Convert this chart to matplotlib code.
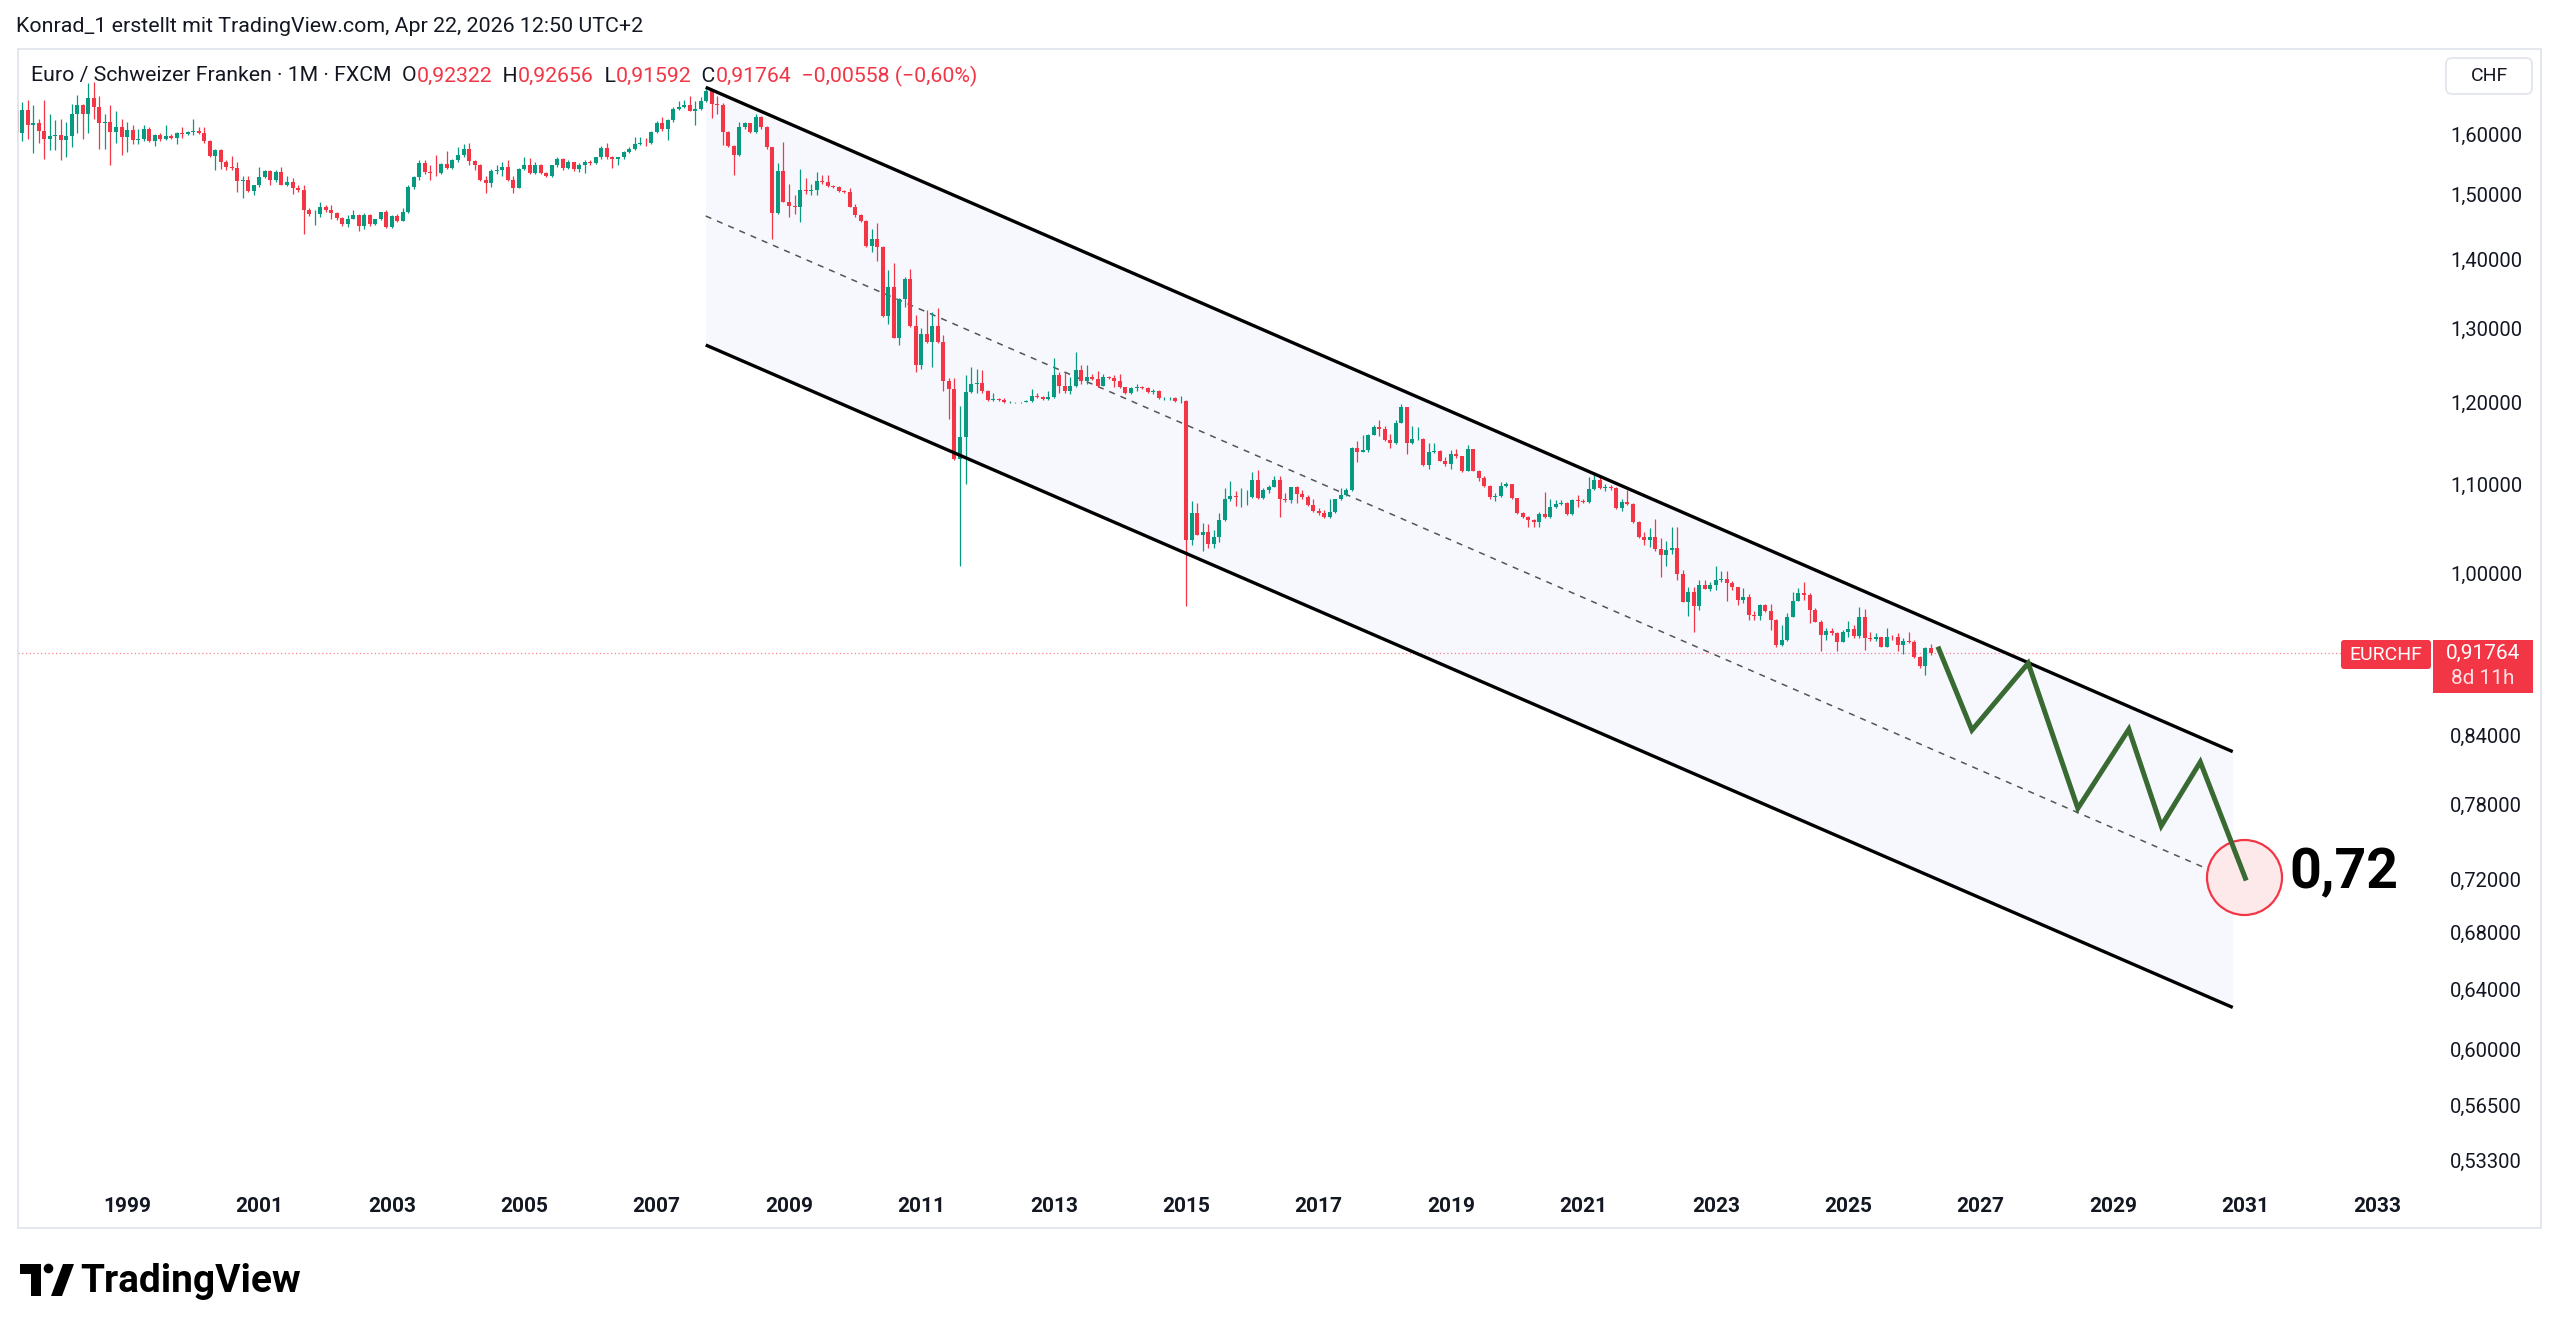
import numpy as np
import matplotlib
matplotlib.use("Agg")
import matplotlib.pyplot as plt
from matplotlib.patches import Rectangle, FancyBboxPatch, Polygon, Circle
from matplotlib.ticker import NullLocator, NullFormatter

W, H, DPI = 2560, 1336, 100
plt.rcParams['font.family'] = ['Roboto', 'DejaVu Sans']

GREEN = '#089981'
RED = '#f23645'
TEXT = '#131722'

# ---------------- EURCHF monthly candles (FXCM), May 1997 .. Apr 2026 ----------------
START_YEAR, START_MONTH = 1997, 5
first_open = 1.640
closes = [
    1.602, 1.643, 1.616, 1.619, 1.606, 1.593, 1.597, 1.599,                          # 1997
    1.590, 1.597, 1.635, 1.652, 1.636, 1.663, 1.648, 1.619, 1.622, 1.604, 1.613, 1.596,  # 1998
    1.608, 1.591, 1.593, 1.610, 1.588, 1.599, 1.593, 1.598, 1.594, 1.603, 1.601, 1.604,  # 1999
    1.606, 1.603, 1.588, 1.563, 1.573, 1.554, 1.545, 1.544, 1.522, 1.523, 1.506, 1.515,  # 2000
    1.529, 1.539, 1.523, 1.537, 1.516, 1.520, 1.511, 1.508, 1.476, 1.469, 1.470, 1.481,  # 2001
    1.475, 1.471, 1.463, 1.453, 1.462, 1.467, 1.450, 1.467, 1.453, 1.461, 1.472, 1.449,  # 2002
    1.466, 1.459, 1.472, 1.513, 1.529, 1.551, 1.537, 1.536, 1.535, 1.550, 1.544, 1.556,  # 2003
    1.566, 1.575, 1.555, 1.549, 1.524, 1.519, 1.538, 1.541, 1.546, 1.523, 1.511, 1.542,  # 2004
    1.548, 1.535, 1.548, 1.535, 1.531, 1.548, 1.559, 1.544, 1.554, 1.542, 1.548, 1.554,  # 2005
    1.552, 1.561, 1.577, 1.561, 1.559, 1.561, 1.570, 1.575, 1.583, 1.586, 1.585, 1.605,  # 2006
    1.619, 1.609, 1.625, 1.645, 1.648, 1.651, 1.641, 1.645, 1.658, 1.676, 1.654, 1.652,  # 2007
    1.604, 1.580, 1.565, 1.613, 1.619, 1.604, 1.630, 1.613, 1.578, 1.471, 1.539, 1.489,  # 2008
    1.482, 1.481, 1.507, 1.506, 1.507, 1.522, 1.520, 1.514, 1.512, 1.506, 1.505, 1.481,  # 2009
    1.467, 1.459, 1.419, 1.431, 1.418, 1.317, 1.358, 1.287, 1.342, 1.371, 1.303, 1.250,  # 2010
    1.292, 1.281, 1.303, 1.281, 1.229, 1.218, 1.130, 1.157, 1.214, 1.224, 1.226, 1.215,  # 2011
    1.204, 1.205, 1.204, 1.201, 1.201, 1.2008, 1.201, 1.202, 1.209, 1.207, 1.205, 1.208,  # 2012
    1.237, 1.222, 1.216, 1.222, 1.243, 1.228, 1.234, 1.231, 1.222, 1.234, 1.232, 1.228,  # 2013
    1.220, 1.213, 1.219, 1.221, 1.2195, 1.214, 1.2155, 1.206, 1.206, 1.2065, 1.202, 1.2025,  # 2014
    1.036, 1.066, 1.042, 1.045, 1.031, 1.039, 1.058, 1.082, 1.086, 1.085, 1.085, 1.085,  # 2015
    1.105, 1.084, 1.093, 1.097, 1.105, 1.082, 1.081, 1.096, 1.088, 1.0845, 1.0755, 1.069,  # 2016
    1.066, 1.0615, 1.068, 1.082, 1.087, 1.093, 1.143, 1.139, 1.141, 1.160, 1.169, 1.167,  # 2017
    1.153, 1.149, 1.174, 1.195, 1.149, 1.154, 1.155, 1.123, 1.138, 1.140, 1.128, 1.124,  # 2018
    1.136, 1.133, 1.115, 1.142, 1.116, 1.107, 1.098, 1.085, 1.086, 1.098, 1.0995, 1.0835,  # 2019
    1.066, 1.062, 1.058, 1.056, 1.065, 1.062, 1.0736, 1.077, 1.0775, 1.065, 1.081, 1.0805,  # 2020
    1.0795, 1.094, 1.1045, 1.095, 1.097, 1.095, 1.072, 1.0794, 1.077, 1.0565, 1.039, 1.0362,  # 2021
    1.039, 1.0256, 1.019, 1.0249, 1.0267, 0.9988, 0.9698, 0.9801, 0.9653, 0.9871, 0.9825, 0.987,  # 2022
    0.9924, 0.994, 0.9896, 0.9847, 0.9715, 0.975, 0.956, 0.9553, 0.9663, 0.9604, 0.9509, 0.9258,  # 2023
    0.9307, 0.9543, 0.9708, 0.9783, 0.9766, 0.961, 0.9492, 0.9357, 0.940, 0.938, 0.929, 0.939,  # 2024
    0.9414, 0.9348, 0.9543, 0.9325, 0.9315, 0.9335, 0.9242, 0.9341, 0.9335, 0.9258, 0.9300, 0.929,  # 2025
    0.9136, 0.9052, 0.9232, 0.91764,                                                 # 2026
]
highs = [
    1.657, 1.657, 1.660, 1.651, 1.627, 1.660, 1.635, 1.625,
    1.627, 1.622, 1.654, 1.670, 1.654, 1.690, 1.693, 1.667, 1.635, 1.651, 1.640, 1.627,
    1.622, 1.616, 1.610, 1.616, 1.613, 1.600, 1.602, 1.616, 1.601, 1.604, 1.612, 1.606,
    1.627, 1.612, 1.613, 1.590, 1.576, 1.576, 1.556, 1.563, 1.554, 1.531, 1.530, 1.516,
    1.545, 1.540, 1.541, 1.540, 1.545, 1.531, 1.527, 1.515, 1.515, 1.478, 1.475, 1.488,
    1.483, 1.483, 1.472, 1.464, 1.467, 1.476, 1.469, 1.471, 1.469, 1.462, 1.473, 1.476,
    1.467, 1.470, 1.478, 1.515, 1.531, 1.556, 1.556, 1.548, 1.565, 1.552, 1.572, 1.558,
    1.579, 1.584, 1.586, 1.557, 1.550, 1.530, 1.542, 1.548, 1.553, 1.556, 1.530, 1.543,
    1.561, 1.560, 1.553, 1.550, 1.537, 1.549, 1.561, 1.560, 1.556, 1.554, 1.551, 1.557,
    1.557, 1.562, 1.580, 1.586, 1.563, 1.562, 1.572, 1.578, 1.596, 1.596, 1.594, 1.606,
    1.623, 1.630, 1.627, 1.647, 1.658, 1.660, 1.667, 1.658, 1.665, 1.682, 1.678, 1.667,
    1.655, 1.606, 1.582, 1.622, 1.622, 1.620, 1.636, 1.632, 1.614, 1.579, 1.551, 1.587,
    1.517, 1.500, 1.542, 1.527, 1.518, 1.537, 1.532, 1.532, 1.516, 1.514, 1.508, 1.510,
    1.485, 1.469, 1.460, 1.446, 1.455, 1.420, 1.384, 1.394, 1.343, 1.374, 1.385, 1.319,
    1.300, 1.326, 1.323, 1.329, 1.290, 1.232, 1.232, 1.196, 1.237, 1.247, 1.244, 1.243,
    1.217, 1.213, 1.206, 1.206, 1.202, 1.2015, 1.2015, 1.204, 1.218, 1.213, 1.209, 1.216,
    1.259, 1.241, 1.241, 1.234, 1.267, 1.250, 1.250, 1.238, 1.242, 1.238, 1.235, 1.236,
    1.238, 1.221, 1.220, 1.225, 1.222, 1.221, 1.218, 1.217, 1.208, 1.208, 1.207, 1.209,
    1.2035, 1.080, 1.078, 1.055, 1.054, 1.047, 1.066, 1.095, 1.104, 1.092, 1.095, 1.093,
    1.114, 1.117, 1.095, 1.099, 1.110, 1.110, 1.090, 1.097, 1.098, 1.093, 1.087, 1.083,
    1.072, 1.070, 1.082, 1.083, 1.095, 1.095, 1.145, 1.152, 1.160, 1.161, 1.172, 1.178,
    1.171, 1.161, 1.178, 1.199, 1.195, 1.170, 1.169, 1.156, 1.150, 1.149, 1.141, 1.132,
    1.141, 1.142, 1.133, 1.147, 1.142, 1.117, 1.110, 1.099, 1.089, 1.103, 1.103, 1.100,
    1.084, 1.067, 1.063, 1.059, 1.067, 1.091, 1.082, 1.081, 1.081, 1.079, 1.082, 1.087,
    1.082, 1.108, 1.114, 1.110, 1.100, 1.099, 1.096, 1.082, 1.093, 1.078, 1.057, 1.045,
    1.049, 1.060, 1.038, 1.035, 1.050, 1.050, 1.003, 0.985, 0.985, 0.993, 0.993, 0.990,
    1.007, 1.0025, 1.0025, 0.991, 0.9855, 0.984, 0.978, 0.960, 0.967, 0.9675, 0.9675, 0.9518,
    0.946, 0.9577, 0.9801, 0.9836, 0.9907, 0.9783, 0.9627, 0.9509, 0.9425, 0.9425, 0.939, 0.9408,
    0.950, 0.9458, 0.9647, 0.962, 0.9391, 0.9374, 0.9340, 0.9424, 0.9357, 0.9374, 0.9330, 0.9384,
    0.9307, 0.9150, 0.9242, 0.92656,
]
lows = [
    1.596, 1.588, 1.593, 1.568, 1.586, 1.559, 1.573, 1.573,
    1.556, 1.562, 1.579, 1.602, 1.593, 1.602, 1.627, 1.576, 1.576, 1.548, 1.586, 1.565,
    1.570, 1.584, 1.584, 1.588, 1.587, 1.581, 1.588, 1.591, 1.592, 1.584, 1.594, 1.599,
    1.599, 1.600, 1.586, 1.562, 1.540, 1.542, 1.540, 1.540, 1.504, 1.495, 1.504, 1.499,
    1.512, 1.527, 1.515, 1.520, 1.515, 1.514, 1.501, 1.504, 1.438, 1.466, 1.452, 1.465,
    1.472, 1.462, 1.460, 1.450, 1.449, 1.461, 1.442, 1.446, 1.451, 1.452, 1.460, 1.448,
    1.448, 1.457, 1.458, 1.471, 1.509, 1.524, 1.533, 1.523, 1.530, 1.533, 1.542, 1.542,
    1.554, 1.561, 1.548, 1.541, 1.522, 1.502, 1.513, 1.533, 1.530, 1.522, 1.503, 1.510,
    1.541, 1.534, 1.533, 1.533, 1.528, 1.528, 1.546, 1.541, 1.542, 1.539, 1.537, 1.536,
    1.549, 1.550, 1.559, 1.559, 1.543, 1.548, 1.559, 1.569, 1.573, 1.582, 1.580, 1.583,
    1.603, 1.606, 1.591, 1.622, 1.643, 1.646, 1.640, 1.616, 1.643, 1.656, 1.629, 1.636,
    1.582, 1.578, 1.532, 1.563, 1.610, 1.602, 1.602, 1.609, 1.576, 1.430, 1.470, 1.488,
    1.465, 1.470, 1.457, 1.501, 1.499, 1.499, 1.517, 1.513, 1.510, 1.505, 1.503, 1.480,
    1.465, 1.456, 1.418, 1.410, 1.397, 1.316, 1.306, 1.286, 1.277, 1.330, 1.301, 1.241,
    1.245, 1.280, 1.247, 1.280, 1.215, 1.180, 1.129, 1.0075, 1.100, 1.213, 1.213, 1.213,
    1.203, 1.203, 1.203, 1.200, 1.200, 1.2002, 1.2004, 1.2005, 1.201, 1.206, 1.204, 1.204,
    1.206, 1.213, 1.213, 1.212, 1.220, 1.225, 1.225, 1.230, 1.220, 1.222, 1.231, 1.221,
    1.219, 1.212, 1.211, 1.216, 1.218, 1.213, 1.212, 1.205, 1.204, 1.204, 1.2005, 1.200,
    0.965, 1.030, 1.041, 1.024, 1.027, 1.027, 1.034, 1.057, 1.080, 1.075, 1.073, 1.076,
    1.084, 1.082, 1.083, 1.089, 1.096, 1.062, 1.079, 1.078, 1.078, 1.082, 1.074, 1.068,
    1.064, 1.061, 1.061, 1.066, 1.081, 1.086, 1.092, 1.126, 1.138, 1.139, 1.159, 1.158,
    1.152, 1.143, 1.148, 1.174, 1.136, 1.148, 1.153, 1.122, 1.118, 1.137, 1.127, 1.122,
    1.118, 1.131, 1.114, 1.115, 1.115, 1.104, 1.097, 1.083, 1.080, 1.085, 1.097, 1.083,
    1.065, 1.061, 1.050, 1.050, 1.050, 1.061, 1.061, 1.072, 1.076, 1.064, 1.064, 1.073,
    1.078, 1.078, 1.093, 1.094, 1.092, 1.093, 1.071, 1.069, 1.076, 1.055, 1.038, 1.030,
    1.028, 1.024, 0.996, 1.008, 1.021, 0.993, 0.9698, 0.955, 0.939, 0.961, 0.9825, 0.981,
    0.982, 0.990, 0.970, 0.982, 0.9663, 0.9686, 0.951, 0.951, 0.951, 0.959, 0.941, 0.924,
    0.925, 0.930, 0.954, 0.970, 0.9715, 0.9475, 0.9485, 0.920, 0.9306, 0.9357, 0.9193, 0.9283,
    0.934, 0.9323, 0.9323, 0.9203, 0.930, 0.930, 0.924, 0.924, 0.9308, 0.9193, 0.917, 0.928,
    0.9127, 0.9029, 0.8965, 0.91592,
]
last_price = 0.91764

# ---------------- drawings (decimal years, price) ----------------
chan_t = [2007.742, 2030.81]
chan_upper = [1.683, 0.8257]
chan_lower = [1.2768, 0.6277]
chan_mid = [1.4661, 0.7196]

proj_t = [2026.37, 2026.87, 2027.72, 2028.47, 2029.24, 2029.73, 2030.32, 2031.00]
proj_p = [0.9218, 0.845, 0.9078, 0.777, 0.8458, 0.7625, 0.8166, 0.721]

target_t, target_p = 2030.98, 0.7219
target_label = "0,72"

year_ticks = list(range(1999, 2034, 2))
price_ticks = [0.533, 0.565, 0.60, 0.64, 0.68, 0.72, 0.78, 0.84,
               1.0, 1.1, 1.2, 1.3, 1.4, 1.5, 1.6]

header = "Konrad_1 erstellt mit TradingView.com, Apr 22, 2026 12:50 UTC+2"
legend_parts = [
    ("Euro / Schweizer Franken · 1M · FXCM  O", TEXT), ("0,92322", RED),
    ("  H", TEXT), ("0,92656", RED), ("  L", TEXT), ("0,91592", RED),
    ("  C", TEXT), ("0,91764", RED), ("  \u22120,00558 (\u22120,60%)", RED),
]

# ---------------------------------------------------------------------
closes = np.array(closes)
highs = np.array(highs)
lows = np.array(lows)
# FX monthly bars open where the previous month closed
opens = np.r_[first_open, closes[:-1]]
t = START_YEAR + (START_MONTH - 1 + np.arange(len(closes))) / 12.0
cols = np.where(closes >= opens, GREEN, RED)

fig = plt.figure(figsize=(W / DPI, H / DPI), dpi=DPI)
fig.patch.set_facecolor('white')


def px_rect(x0, y0, x1, y1):
    return [x0 / W, 1 - y1 / H, (x1 - x0) / W, (y1 - y0) / H]


ax = fig.add_axes(px_rect(18, 49, 2432, 1182))
ax.set_yscale('log')
ax.set_xlim(1997.353, 2033.82)
ax.set_ylim(0.5206, 1.7535)
for s in ax.spines.values():
    s.set_visible(False)

# channel
ax.fill_between(chan_t, chan_lower, chan_upper, color='#f7f8fe', lw=0, zorder=1)
ax.plot(chan_t, chan_mid, color='#555555', lw=1.1, dashes=(4, 4), zorder=2)

# current price line
ax.axhline(last_price, color=RED, lw=0.9, ls=(0, (1, 2)), alpha=0.6, zorder=2)

# candles
ax.vlines(t, lows, highs, colors=cols, lw=0.9, zorder=3)
ax.vlines(t, opens, closes, colors=cols, lw=2.9, zorder=3)

ax.plot(chan_t, chan_upper, color='black', lw=2.4, solid_capstyle='butt', zorder=4)
ax.plot(chan_t, chan_lower, color='black', lw=2.4, solid_capstyle='butt', zorder=4)

# target circle and projected path
ax.scatter([target_t], [target_p], s=54 ** 2, facecolor='#fde8ea', edgecolor=RED,
           lw=1.6, zorder=5)
ax.plot(proj_t, proj_p, color='#386a31', lw=3.6, solid_joinstyle='miter', zorder=6)
ax.text(2031.66, 0.7245, target_label, fontsize=40, fontweight='bold', color='black',
        ha='left', va='center', zorder=7)

# axes ticks
ax.yaxis.tick_right()
ax.set_yticks(price_ticks)
ax.set_yticklabels([f"{v:.5f}".replace('.', ',') for v in price_ticks])
ax.yaxis.set_minor_locator(NullLocator())
ax.yaxis.set_minor_formatter(NullFormatter())
ax.tick_params(axis='y', length=0, pad=13, labelsize=14.5, labelcolor=TEXT)
ax.set_xticks(year_ticks)
ax.set_xticklabels([str(y) for y in year_ticks], fontweight='semibold')
ax.tick_params(axis='x', length=0, pad=11, labelsize=15, labelcolor=TEXT)

# ---------------- overlay in figure pixels ----------------
ov = fig.add_axes([0, 0, 1, 1], zorder=10)
ov.set_xlim(0, W)
ov.set_ylim(H, 0)
ov.axis('off')
ov.patch.set_alpha(0)

ov.add_patch(Rectangle((18, 49), 2523, 1179, fill=False, ec='#e0e3eb', lw=1.2))
ov.text(16, 26, header, fontsize=15.4, color=TEXT, va='center', ha='left')

renderer = fig.canvas.get_renderer()
x = 31
for s, c in legend_parts:
    tx = ov.text(x, 76, s, fontsize=15.3, color=c, va='center', ha='left')
    x += tx.get_window_extent(renderer=renderer).width

# currency box
ov.add_patch(FancyBboxPatch((2446, 58), 86, 36, boxstyle='round,pad=0,rounding_size=6',
                            fc='white', ec='#e0e3eb', lw=1.2))
ov.text(2489, 76, "CHF", fontsize=14, color=TEXT, ha='center', va='center')

# last price labels
ov.add_patch(FancyBboxPatch((2341, 640), 90, 29, boxstyle='round,pad=0,rounding_size=3',
                            fc=RED, ec='none'))
ov.text(2386, 654.5, "EURCHF", fontsize=14, color='white', ha='center', va='center')
ov.add_patch(Rectangle((2433, 640), 100, 53, fc=RED, ec='none'))
ov.text(2483, 653, "0,91764", fontsize=15, color='white', ha='center', va='center')
ov.text(2483, 679, "8d 11h", fontsize=15, color='#fde0e3', ha='center', va='center')

# TradingView logo
ov.add_patch(Polygon([(20, 1264), (41, 1264), (41, 1296), (31, 1296), (31, 1274), (20, 1274)],
                     closed=True, fc='black', ec='none'))
ov.add_patch(Circle((48.5, 1268.5), 4.8, fc='black', ec='none'))
ov.add_patch(Polygon([(51, 1296), (62, 1296), (74, 1264), (63, 1264)],
                     closed=True, fc='black', ec='none'))
ov.text(80, 1281, "TradingView", fontsize=28, fontweight='bold', color='black',
        ha='left', va='center')

fig.savefig('out.png', dpi=DPI)
